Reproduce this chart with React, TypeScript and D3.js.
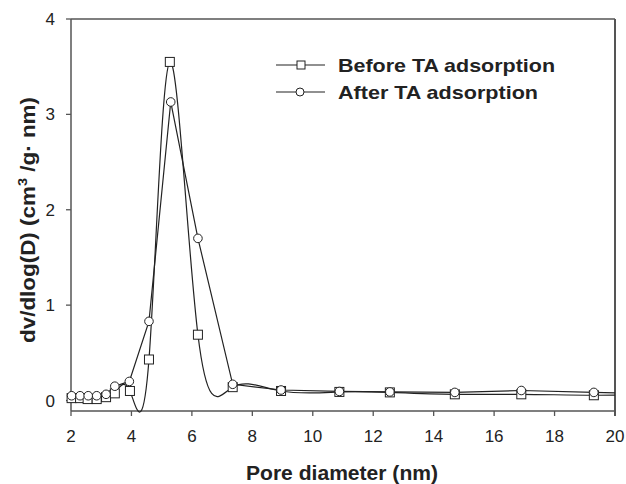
import React from "react";
import * as d3 from "d3";

const beforeX = [2.02, 2.3, 2.55, 2.85, 3.16, 3.45, 3.95, 4.58, 5.27, 6.2, 7.35, 8.95, 10.88, 12.55, 14.7, 16.9, 19.3, 21.8];
const beforeY = [0.025, 0.025, 0.015, 0.015, 0.035, 0.075, 0.1, 0.43, 3.55, 0.69, 0.14, 0.1, 0.09, 0.085, 0.065, 0.065, 0.055, 0.065];
const afterX = [2.02, 2.3, 2.57, 2.85, 3.16, 3.45, 3.93, 4.58, 5.3, 6.2, 7.35, 8.95, 10.88, 12.55, 14.7, 16.9, 19.3, 21.8];
const afterY = [0.05, 0.05, 0.05, 0.05, 0.065, 0.15, 0.2, 0.83, 3.13, 1.7, 0.17, 0.11, 0.095, 0.09, 0.085, 0.105, 0.085, 0.07];
const xTicks = [2, 4, 6, 8, 10, 12, 14, 16, 18, 20];
const yTicks = [0, 1, 2, 3, 4];
const legendLabels = ["Before TA adsorption", "After TA adsorption"];

export default function App() {
  const left = 71, right = 615, top = 19, bottom = 411;
  const x = d3.scaleLinear().domain([2, 20]).range([left, right]);
  const y = d3.scaleLinear().domain([-0.11, 4]).range([bottom, top]);
  const before = beforeX.map((v, i) => [v, beforeY[i]] as [number, number]);
  const after = afterX.map((v, i) => [v, afterY[i]] as [number, number]);
  const lineNat = d3.line<[number, number]>().x(d => x(d[0])).y(d => y(d[1])).curve(d3.curveNatural);
  const lineLin = d3.line<[number, number]>().x(d => x(d[0])).y(d => y(d[1]));
  const ink = "#222";
  const axisCol = "#555";
  const font = "Arial, 'Liberation Sans', sans-serif";
  const vis = (d: [number, number]) => d[0] <= 20;
  return (
    <svg width={626} height={484} style={{ position: "absolute", left: 0, top: 0 }} fontFamily={font}>
      <defs>
        <clipPath id="plotclip">
          <rect x={left} y={top} width={right - left} height={bottom - top + 20} />
        </clipPath>
      </defs>
      <rect x={0} y={0} width={626} height={484} fill="#fff" />
      <line x1={left} y1={top} x2={right} y2={top} stroke={axisCol} strokeWidth={1.5} />
      <line x1={right} y1={top} x2={right} y2={bottom + 5} stroke={axisCol} strokeWidth={2} />
      <line x1={left} y1={top} x2={left} y2={bottom} stroke={axisCol} strokeWidth={1.5} />
      <line x1={left} y1={bottom} x2={right} y2={bottom} stroke={axisCol} strokeWidth={1.5} />
      {xTicks.map(t => (
        <g key={"x" + t}>
          <line x1={x(t)} x2={x(t)} y1={bottom} y2={bottom + 5} stroke={axisCol} strokeWidth={1.3} />
          <text x={x(t)} y={442} textAnchor="middle" fontSize={17} fill={ink}>{t}</text>
        </g>
      ))}
      {yTicks.map(t => (
        <g key={"y" + t}>
          <line x1={left - 5} x2={left} y1={y(t)} y2={y(t)} stroke={axisCol} strokeWidth={1.3} />
          <text x={55} y={y(t) + 6} textAnchor="end" fontSize={17} fill={ink}>{t}</text>
        </g>
      ))}
      <text x={342} y={480} textAnchor="middle" fontSize={20} fontWeight="bold" fill={ink} textLength={192} lengthAdjust="spacingAndGlyphs">Pore diameter (nm)</text>
      <text transform="translate(35,220) rotate(-90)" textAnchor="middle" fontSize={20} fontWeight="bold" fill={ink} textLength={246} lengthAdjust="spacingAndGlyphs">
        dv/dlog(D) (cm<tspan dy={-8} fontSize={13}>3</tspan><tspan dy={8}> /g· nm)</tspan>
      </text>
      <g clipPath="url(#plotclip)">
        <path d={lineNat(before) || ""} fill="none" stroke={ink} strokeWidth={1.2} />
        <path d={lineLin(after) || ""} fill="none" stroke={ink} strokeWidth={1.2} />
      </g>
      {before.filter(vis).map((d, i) => (
        <rect key={"b" + i} x={x(d[0]) - 4.5} y={y(d[1]) - 4.5} width={9} height={9} fill="#fff" stroke={ink} strokeWidth={1} />
      ))}
      {after.filter(vis).map((d, i) => (
        <circle key={"a" + i} cx={x(d[0])} cy={y(d[1])} r={4.3} fill="#fff" stroke={ink} strokeWidth={1} />
      ))}
      <line x1={276} x2={325} y1={65} y2={65} stroke={ink} strokeWidth={1.2} />
      <rect x={297} y={61} width={8} height={8} fill="#fff" stroke={ink} strokeWidth={1} />
      <text x={338} y={72} fontSize={19} fontWeight="bold" fill={ink} textLength={217} lengthAdjust="spacingAndGlyphs">{legendLabels[0]}</text>
      <line x1={276} x2={325} y1={92} y2={92} stroke={ink} strokeWidth={1.2} />
      <circle cx={300} cy={92} r={4} fill="#fff" stroke={ink} strokeWidth={1} />
      <text x={338} y={99} fontSize={19} fontWeight="bold" fill={ink} textLength={200} lengthAdjust="spacingAndGlyphs">{legendLabels[1]}</text>
    </svg>
  );
}
